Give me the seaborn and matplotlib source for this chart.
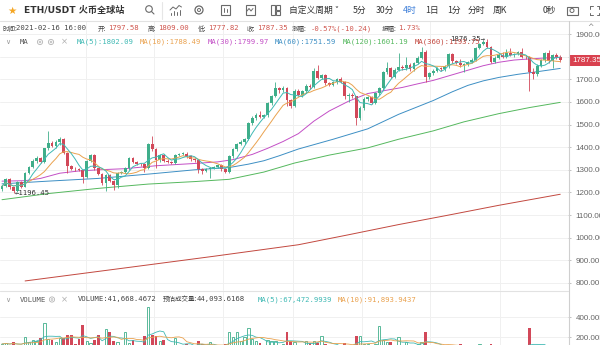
import numpy as np
import pandas as pd
import matplotlib
matplotlib.use("Agg")
import matplotlib.pyplot as plt
import seaborn as sns
from matplotlib.patches import Circle, Rectangle

# ---------------- data ----------------
opens = [1214, 1228, 1258, 1222, 1206, 1246, 1226, 1286, 1312, 1340,
         1352, 1336, 1395, 1420, 1406, 1422, 1437, 1376, 1318, 1305,
         1302, 1300, 1270, 1340, 1366, 1306, 1282, 1240, 1278, 1252,
         1232, 1285, 1290, 1306, 1350, 1336, 1326, 1324, 1308, 1416,
         1390, 1342, 1366, 1340, 1336, 1330, 1364, 1370, 1372, 1360,
         1346, 1342, 1305, 1296, 1305, 1308, 1312, 1320, 1302, 1292,
         1360, 1390, 1414, 1422, 1436, 1506, 1530, 1542, 1534, 1540,
         1594, 1626, 1660, 1652, 1662, 1608, 1580, 1650, 1632, 1648,
         1672, 1664, 1738, 1706, 1718, 1682, 1676, 1686, 1700, 1690,
         1625, 1632, 1624, 1530, 1574, 1614, 1620, 1596, 1640, 1660,
         1730, 1752, 1712, 1742, 1756, 1748, 1764, 1744, 1772, 1796,
         1822, 1712, 1728, 1738, 1750, 1744, 1758, 1812, 1780, 1772,
         1762, 1766, 1776, 1786, 1838, 1856, 1866, 1842, 1776, 1796,
         1808, 1800, 1818, 1808, 1812, 1820, 1800, 1798, 1730, 1722,
         1760, 1784, 1816, 1780, 1806, 1797.58]
closes = [1228, 1258, 1222, 1206, 1246, 1226, 1286, 1312, 1340, 1352,
          1336, 1395, 1420, 1406, 1422, 1437, 1376, 1318, 1305, 1302,
          1300, 1270, 1340, 1366, 1306, 1282, 1240, 1278, 1252, 1232,
          1285, 1290, 1306, 1350, 1336, 1326, 1324, 1308, 1416, 1390,
          1342, 1366, 1340, 1336, 1330, 1364, 1370, 1372, 1360, 1346,
          1342, 1305, 1296, 1305, 1308, 1312, 1320, 1302, 1292, 1360,
          1390, 1414, 1422, 1436, 1506, 1530, 1542, 1534, 1540, 1594,
          1626, 1660, 1652, 1662, 1608, 1580, 1650, 1632, 1648, 1672,
          1664, 1738, 1706, 1718, 1682, 1676, 1686, 1700, 1690, 1625,
          1632, 1624, 1530, 1574, 1614, 1620, 1596, 1640, 1660, 1730,
          1752, 1712, 1742, 1756, 1748, 1764, 1744, 1772, 1796, 1822,
          1712, 1728, 1738, 1750, 1744, 1758, 1812, 1780, 1772, 1762,
          1766, 1776, 1786, 1838, 1856, 1866, 1842, 1776, 1796, 1808,
          1800, 1818, 1808, 1812, 1820, 1800, 1798, 1730, 1722, 1760,
          1784, 1816, 1780, 1806, 1797.58, 1787.35]
highs = [1232, 1262, 1262, 1226, 1250, 1250, 1290, 1318, 1346, 1360,
         1356, 1398, 1472, 1428, 1430, 1445, 1440, 1380, 1322, 1312,
         1308, 1304, 1344, 1372, 1370, 1310, 1286, 1282, 1282, 1256,
         1290, 1296, 1312, 1356, 1356, 1340, 1332, 1328, 1420, 1450,
         1396, 1370, 1372, 1346, 1340, 1368, 1376, 1380, 1378, 1364,
         1350, 1346, 1310, 1310, 1314, 1318, 1326, 1324, 1306, 1364,
         1396, 1420, 1432, 1442, 1510, 1536, 1550, 1560, 1546, 1598,
         1632, 1686, 1668, 1672, 1666, 1612, 1656, 1656, 1654, 1680,
         1680, 1748, 1762, 1724, 1722, 1688, 1692, 1706, 1712, 1694,
         1640, 1638, 1628, 1580, 1620, 1628, 1626, 1646, 1666, 1736,
         1778, 1756, 1748, 1815, 1764, 1800, 1770, 1778, 1802, 1842,
         1830, 1734, 1746, 1756, 1756, 1764, 1818, 1816, 1786, 1790,
         1772, 1782, 1792, 1842, 1862, 1872, 1876.35, 1848, 1802, 1814,
         1820, 1834, 1840, 1818, 1826, 1836, 1808, 1802, 1748, 1766,
         1790, 1822, 1828, 1812, 1816, 1809.00]
lows = [1208, 1222, 1215, 1196.45, 1203, 1220, 1222, 1280, 1306, 1330,
        1330, 1330, 1388, 1400, 1398, 1410, 1370, 1285, 1298, 1296,
        1294, 1240, 1265, 1334, 1300, 1276, 1232, 1205, 1246, 1212,
        1218, 1280, 1284, 1300, 1330, 1320, 1316, 1290, 1304, 1385,
        1308, 1336, 1335, 1330, 1325, 1326, 1360, 1364, 1354, 1340,
        1336, 1285, 1282, 1290, 1262, 1302, 1306, 1296, 1286, 1288,
        1354, 1384, 1408, 1416, 1430, 1500, 1522, 1528, 1528, 1534,
        1588, 1620, 1640, 1645, 1584, 1572, 1576, 1624, 1620, 1640,
        1656, 1660, 1700, 1700, 1676, 1670, 1670, 1680, 1684, 1615,
        1598, 1616, 1496, 1520, 1566, 1606, 1590, 1590, 1632, 1654,
        1722, 1704, 1706, 1736, 1740, 1742, 1738, 1738, 1766, 1790,
        1686, 1702, 1720, 1730, 1736, 1738, 1752, 1774, 1766, 1756,
        1730, 1760, 1770, 1780, 1832, 1850, 1836, 1770, 1770, 1790,
        1794, 1796, 1802, 1800, 1806, 1796, 1790, 1650, 1700, 1716,
        1754, 1778, 1774, 1749, 1790, 1777.82]
volumes_k = [130, 140, 120, 150, 110, 120, 200, 150, 170, 160,
             190, 340, 180, 170, 150, 195, 195, 220, 220, 130,
             180, 320, 160, 140, 170, 220, 120, 280, 250, 160,
             150, 110, 250, 140, 170, 120, 100, 210, 500, 220,
             210, 160, 170, 110, 120, 190, 120, 100, 130, 120,
             100, 165, 130, 90, 150, 100, 110, 90, 130, 250,
             200, 250, 160, 200, 290, 180, 160, 140, 110, 170,
             160, 160, 110, 130, 250, 160, 150, 100, 120, 160,
             140, 160, 140, 210, 130, 100, 90, 100, 110, 140,
             110, 100, 210, 210, 130, 130, 120, 130, 310, 170,
             150, 150, 120, 200, 120, 150, 110, 120, 130, 150,
             250, 110, 100, 90, 80, 90, 120, 100, 90, 130,
             90, 80, 90, 110, 130, 90, 100, 130, 80, 90,
             80, 80, 90, 70, 80, 90, 70, 290, 100, 80,
             80, 70, 90, 80, 55, 41.67]

# longer moving averages at candle positions
ma30_at = [0, 6, 10, 15, 20, 25, 32, 40, 50, 56, 60, 65, 69, 73, 77, 81, 85, 90, 95,
           100, 104, 108, 112, 117, 121, 125, 129, 133, 137, 141, 145]
ma30_val = [1250, 1252, 1262, 1285, 1295, 1300, 1305, 1318, 1328, 1335, 1345, 1368, 1395,
            1425, 1460, 1515, 1560, 1603, 1637, 1652, 1664, 1680, 1695, 1720, 1740, 1760,
            1775, 1785, 1790, 1794, 1797]
ma60_at = [0, 12, 25, 38, 50, 59, 64, 68, 72, 77, 86, 95, 103, 112, 117, 121, 125, 129,
           134, 138, 145]
ma60_val = [1238, 1250, 1262, 1281, 1300, 1310, 1325, 1340, 1362, 1392, 1435, 1481, 1545,
            1606, 1645, 1673, 1693, 1708, 1722, 1731, 1748]
ma120_at = [0, 12, 25, 38, 50, 59, 68, 76, 85, 95, 103, 112, 120, 129, 137, 145]
ma120_val = [1168, 1195, 1218, 1237, 1248, 1258, 1290, 1330, 1365, 1397, 1435, 1472, 1512,
             1548, 1575, 1598]
ma360_at = [6, 20, 38, 55, 77, 90, 103, 116, 129, 145]
ma360_val = [809, 840, 880, 918, 969, 1013, 1058, 1100, 1143, 1192]

price_ticks = [800, 900, 1000, 1100, 1200, 1300, 1400, 1500, 1600, 1700, 1800, 1900]
vol_ticks_k = [200, 400]
time_grid = [21.8, 39.6, 57.5, 75.6, 93.5, 111.2, 129.4]

# ---------------- style ----------------
GREEN = "#3fae8a"
RED = "#d24859"
C_MA5 = "#3fb9b4"
C_MA10 = "#eaa24f"
C_MA30 = "#c34fc6"
C_MA60 = "#3d8fc4"
C_MA120 = "#55b85e"
C_MA360 = "#c2483f"
GRID = "#f0f0f0"
DARK = "#444444"
VALRED = "#d0564e"

sns.set_theme(style="white")
plt.rcParams["font.family"] = ["DejaVu Sans", "Noto Sans CJK SC"]
MONO = ["DejaVu Sans Mono", "Noto Sans CJK SC"]
CJK = ["Noto Sans CJK SC", "DejaVu Sans"]

W, H = 600, 345
fig = plt.figure(figsize=(6, 3.45), dpi=100)
fig.patch.set_facecolor("white")


def box(x0, y0, x1, y1):
    return [x0 / W, 1 - y1 / H, (x1 - x0) / W, (y1 - y0) / H]


ax = fig.add_axes(box(0, 21, 568, 290))
axv = fig.add_axes(box(0, 290, 568, 345))
XL = (-2 / 3.85, 566 / 3.85)

n = len(closes)
idx = np.arange(n)
o = np.array(opens, float)
c = np.array(closes, float)
h = np.array(highs, float)
l = np.array(lows, float)
up = c >= o
col = np.where(up, GREEN, RED)

# grid
for v in time_grid:
    ax.axvline(v, color=GRID, lw=0.7, zorder=0)
    axv.axvline(v, color=GRID, lw=0.7, zorder=0)

# candles
ax.vlines(idx, l, h, colors=col, lw=0.6, zorder=3)
body = np.maximum(np.abs(c - o), 2.5)
ax.bar(idx, body, bottom=np.minimum(o, c), width=0.72, color=col, lw=0, zorder=4)

# moving averages
ma5 = pd.Series(c).rolling(5, min_periods=1).mean()
ma10 = pd.Series(c).rolling(10, min_periods=1).mean()
lw = 0.7
sns.lineplot(x=ma360_at, y=ma360_val, ax=ax, color=C_MA360, lw=lw, estimator=None, zorder=2)
sns.lineplot(x=ma120_at, y=ma120_val, ax=ax, color=C_MA120, lw=lw, estimator=None, zorder=2)
sns.lineplot(x=ma60_at, y=ma60_val, ax=ax, color=C_MA60, lw=lw, estimator=None, zorder=2)
sns.lineplot(x=ma30_at, y=ma30_val, ax=ax, color=C_MA30, lw=lw, estimator=None, zorder=2)
sns.lineplot(x=idx, y=ma10, ax=ax, color=C_MA10, lw=lw, estimator=None, zorder=5)
sns.lineplot(x=idx, y=ma5, ax=ax, color=C_MA5, lw=lw, estimator=None, zorder=5)

ax.set_xlim(*XL)
ax.set_ylim(769.0, 1957.5)
ax.set_yticks(price_ticks)
# the 1800.00 label sits under the last-price tag in the reference
ax.set_yticklabels(["" if v == 1800 else f"{v:.2f}" for v in price_ticks])
ax.grid(axis="y", color=GRID, lw=0.7)
ax.set_axisbelow(True)
ax.set_xticks([])
ax.set_xlabel("")
ax.set_ylabel("")
ax.yaxis.tick_right()
ax.tick_params(axis="y", right=True, left=False, labelright=True, labelleft=False,
               length=2.5, width=0.5, color="#aaaaaa", pad=3, labelsize=5.8, labelcolor="#666666")
for t in ax.get_yticklabels():
    t.set_fontfamily("Liberation Sans")
for s in ax.spines.values():
    s.set_visible(False)

# high / low markers
ax.text(126 - 0.6, 1876.35, "1876.35\u2192", ha="right", va="center", fontsize=5.2,
        family=MONO, color="#333333", zorder=7)
ax.text(3 + 0.4, 1196.45, "\u21901196.45", ha="left", va="center", fontsize=5.2,
        family=MONO, color="#333333", zorder=7)

# volume
vol = np.array(volumes_k, float)
axv.bar(idx[~up], vol[~up], width=0.72, color=RED, lw=0, zorder=3)
axv.bar(idx[up], vol[up], width=0.6, facecolor="white", edgecolor=GREEN, lw=0.6, zorder=3)
vma5 = pd.Series(vol).rolling(5, min_periods=1).mean()
vma10 = pd.Series(vol).rolling(10, min_periods=1).mean()
sns.lineplot(x=idx, y=vma5, ax=axv, color=C_MA5, lw=0.6, estimator=None, zorder=4)
sns.lineplot(x=idx, y=vma10, ax=axv, color=C_MA10, lw=0.6, estimator=None, zorder=4)
axv.set_xlim(*XL)
axv.set_ylim(120, 670)
axv.set_yticks(vol_ticks_k)
axv.set_yticklabels([f"{v:.2f}K" for v in vol_ticks_k])
axv.grid(axis="y", color=GRID, lw=0.7)
axv.set_axisbelow(True)
axv.set_xticks([])
axv.set_xlabel("")
axv.set_ylabel("")
axv.yaxis.tick_right()
axv.tick_params(axis="y", right=True, left=False, labelright=True, labelleft=False,
                length=2.5, width=0.5, color="#aaaaaa", pad=3, labelsize=5.8, labelcolor="#666666")
for t in axv.get_yticklabels():
    t.set_fontfamily("Liberation Sans")
for s in axv.spines.values():
    s.set_visible(False)

# ---------------- overlay (pixel coordinates) ----------------
ov = fig.add_axes([0, 0, 1, 1], zorder=10)
ov.set_xlim(0, W)
ov.set_ylim(H, 0)
ov.axis("off")
ov.patch.set_alpha(0)

# frame lines
ov.plot([0, 600], [20.5, 20.5], color="#e2e2e2", lw=0.8)
ov.plot([0, 568], [290.5, 290.5], color="#e2e2e2", lw=0.8)
ov.plot([568.5, 568.5], [21, 345], color="#cfcfcf", lw=0.8)
ov.plot([162, 162], [2, 19], color="#e6e6e6", lw=0.8)

# toolbar
ov.text(12, 10.5, "\u2605", fontsize=7.5, color="#f5a623", ha="center", va="center",
        family=["DejaVu Sans"])
ov.text(24, 10.5, "ETH/USDT 火币全球站", fontsize=6.6, fontweight="bold", color="#333333",
        va="center", family=["DejaVu Sans", "Noto Sans CJK SC"])
ic = "#6a6a6a"
ov.add_patch(Circle((149, 9), 3.3, fill=False, ec=ic, lw=0.8))
ov.plot([151.4, 154], [11.4, 14], color=ic, lw=0.8)
ov.plot([170, 173, 176, 179, 181.5], [10, 7, 9, 5.5, 7], color=ic, lw=0.7)
for xx, hh in [(171, 2.5), (174, 4), (177, 3), (180, 5)]:
    ov.plot([xx, xx], [15, 15 - hh], color=ic, lw=0.7)
ov.add_patch(Circle((199, 10), 4.0, fill=False, ec=ic, lw=0.9))
ov.add_patch(Circle((199, 10), 1.5, fill=False, ec=ic, lw=0.7))
ov.add_patch(Rectangle((220.5, 5), 9, 10, fill=False, ec=ic, lw=0.8))
ov.plot([223.5, 223.5], [8, 12], color=ic, lw=0.7)
ov.plot([226.5, 226.5], [9, 12], color=ic, lw=0.7)
ov.add_patch(Rectangle((245.5, 5), 9, 10, fill=False, ec=ic, lw=0.8))
ov.plot([247, 249, 251, 253], [11, 8.5, 11, 8.5], color=ic, lw=0.7)
ov.add_patch(Rectangle((270.5, 5), 4, 10, fill=False, ec=ic, lw=0.8))
ov.add_patch(Rectangle((275.5, 5), 4, 4.5, fill=False, ec=ic, lw=0.8))
ov.add_patch(Rectangle((275.5, 10.5), 4, 4.5, fill=False, ec=ic, lw=0.8))

tb = [(289, "自定义周期 \u02c5", "#333333"), (353, "5分", "#333333"), (376, "30分", "#333333"),
      (403, "4时", "#3d7fd9"), (425, "1日", "#333333"), (447, "1分", "#333333"),
      (468, "分时", "#333333"), (493, "周K", "#333333"), (543, "0秒", "#333333")]
for x, s, cc in tb:
    ov.text(x, 10.5, s, fontsize=6.3, color=cc, va="center", family=CJK)
ov.add_patch(Rectangle((566.5, 6.5), 11, 8, fill=False, ec=ic, lw=0.8))
ov.add_patch(Circle((572, 10.5), 2.0, fill=False, ec=ic, lw=0.7))
for (x0, y0, dx, dy) in [(590, 6, 1, 1), (599, 6, -1, 1), (590, 15, 1, -1), (599, 15, -1, -1)]:
    ov.plot([x0, x0 + 2.5 * dx], [y0, y0], color=ic, lw=0.7)
    ov.plot([x0, x0], [y0, y0 + 2.5 * dy], color=ic, lw=0.7)

# info row
Y1 = 28.5
info = [(2, "时间:", DARK, CJK), (16, "2021-02-16 16:00", DARK, MONO),
        (98, "开:", DARK, CJK), (108, "1797.58", VALRED, MONO),
        (148, "高:", DARK, CJK), (158, "1809.00", VALRED, MONO),
        (198, "低:", DARK, CJK), (208, "1777.82", VALRED, MONO),
        (247, "收:", DARK, CJK), (257, "1787.35", VALRED, MONO),
        (292, "涨幅:", DARK, CJK), (311, "-0.57%(-10.24)", VALRED, MONO),
        (382, "振幅:", DARK, CJK), (398, "1.73%", VALRED, MONO)]
for x, s, cc, fam in info:
    ov.text(x, Y1, s, fontsize=5.2 if fam is MONO else 4.7, color=cc, va="center", family=fam)
ov.text(590, 27, "^", fontsize=5.5, color="#888888", ha="center", va="center")

# MA row
Y2 = 42
ov.text(8, Y2, "\u2228", fontsize=5, color="#999999", ha="center", va="center")
ov.text(20, Y2, "MA", fontsize=5.2, color="#555555", va="center", family=MONO)
for cx in (40, 51):
    ov.add_patch(Circle((cx, Y2), 2.6, fill=False, ec="#b5b5b5", lw=0.6))
    ov.add_patch(Circle((cx, Y2), 0.9, fill=False, ec="#b5b5b5", lw=0.5))
ov.text(64, Y2, "\u00d7", fontsize=6, color="#b0b0b0", ha="center", va="center")
ma_lbl = [(77, "MA(5):1802.09", C_MA5), (140, "MA(10):1788.49", C_MA10),
          (208, "MA(30):1799.97", C_MA30), (275, "MA(60):1751.59", C_MA60),
          (343, "MA(120):1601.19", C_MA120), (415, "MA(360):1193.75", C_MA360)]
for x, s, cc in ma_lbl:
    ov.text(x, Y2, s, fontsize=5.2, color=cc, va="center", family=MONO)

# volume header row
Y3 = 299.5
ov.text(8, Y3, "\u2228", fontsize=5, color="#999999", ha="center", va="center")
ov.text(20, Y3, "VOLUME", fontsize=5.2, color="#555555", va="center", family=MONO)
ov.add_patch(Circle((52, Y3), 2.6, fill=False, ec="#b5b5b5", lw=0.6))
ov.add_patch(Circle((52, Y3), 0.9, fill=False, ec="#b5b5b5", lw=0.5))
ov.text(64, Y3, "\u00d7", fontsize=6, color="#b0b0b0", ha="center", va="center")
vh = [(78, "VOLUME:41,668.4672", DARK, MONO), (163, "预估成交量:", DARK, CJK),
      (197, "44,093.6168", DARK, MONO), (258, "MA(5):67,472.9939", C_MA5, MONO),
      (338, "MA(10):91,893.9437", C_MA10, MONO)]
for x, s, cc, fam in vh:
    ov.text(x, Y3, s, fontsize=5.2 if fam is MONO else 4.7, color=cc, va="center", family=fam)

# last price tag
ov.add_patch(Rectangle((568.5, 54.5), 32, 11, color="#d9414f", lw=0))
ov.text(572, 60, "1787.35", fontsize=5.8, color="white", va="center", family=["Liberation Sans"])

fig.savefig("out.png", dpi=100, facecolor="white")
